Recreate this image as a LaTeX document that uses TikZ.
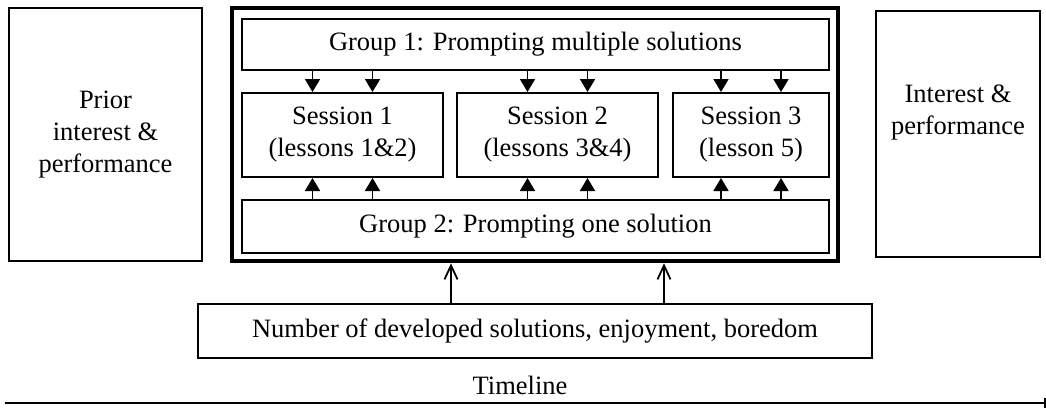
\documentclass[tikz,border=0pt]{standalone}
\usepackage{fontspec}
\setmainfont{Liberation Serif}
\usetikzlibrary{arrows.meta}
\begin{document}
\begin{tikzpicture}[x=1pt,y=-1pt,
  box/.style={draw, line width=2pt, inner sep=0pt, align=center,
    font=\fontsize{26.5}{32}\selectfont},
  bigbox/.style={draw, line width=4.5pt, inner sep=0pt},
  txt/.style={inner sep=0pt, align=center, font=\fontsize{26.5}{32}\selectfont},
  down/.style={line width=1.8pt, -{Triangle[width=15pt,length=13pt]}},
  upopen/.style={line width=1.8pt, -{Straight Barb[width=13pt,length=14pt,line width=1.8pt]}}]
\useasboundingbox (0,0) rectangle (1046,408);
% side boxes
\node[box, minimum width=193pt, minimum height=253pt] (prior) at (105.5,134.5)
  {Prior\\interest \&\\performance};
\node[box, minimum width=164pt, minimum height=246pt] (post) at (958,134) {};
\node[txt] (posttxt) at (958,113) {Interest \&\\performance};
% main frame
\node[bigbox, minimum width=606pt, minimum height=253pt] (frame) at (535,134.5) {};
\node[box, minimum width=587pt, minimum height=51pt] (g1) at (535.5,44.5)
  {Group 1: Prompting multiple solutions};
\node[box, minimum width=587pt, minimum height=53pt] (g2) at (535.5,226.5)
  {Group 2: Prompting one solution};
\node[box, minimum width=201pt, minimum height=84pt] (s1) at (342.5,135)
  {Session 1\\(lessons 1\&2)};
\node[box, minimum width=201pt, minimum height=84pt] (s2) at (557.5,135)
  {Session 2\\(lessons 3\&4)};
\node[box, minimum width=156pt, minimum height=84pt] (s3) at (751,135)
  {Session 3\\(lesson 5)};
% arrows from groups to sessions
\foreach \s in {s1,s2,s3}{
  \draw[down] ([xshift=-30pt]\s.north |- g1.south) -- ([xshift=-30pt]\s.north);
  \draw[down] ([xshift=30pt]\s.north |- g1.south) -- ([xshift=30pt]\s.north);
  \draw[down] ([xshift=-30pt]\s.south |- g2.north) -- ([xshift=-30pt]\s.south);
  \draw[down] ([xshift=30pt]\s.south |- g2.north) -- ([xshift=30pt]\s.south);
}
% measures box
\node[box, minimum width=674pt, minimum height=54pt] (meas) at (535,331)
  {Number of developed solutions, enjoyment, boredom};
\draw[upopen] ([xshift=-84pt]meas.north) -- ([xshift=-84pt]frame.south);
\draw[upopen] ([xshift=129pt]meas.north) -- ([xshift=129pt]frame.south);
% timeline
\node[txt] (tl) at (520,385) {Timeline};
\coordinate (tla) at (5,403);
\coordinate (tlb) at (1046,403);
\draw[line width=1.8pt, -{Bar[width=10pt]}] (tla) -- (tlb);
\end{tikzpicture}
\end{document}
